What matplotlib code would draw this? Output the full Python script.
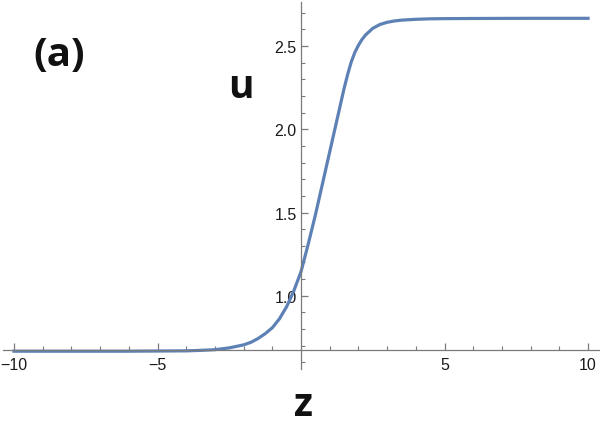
import numpy as np
import matplotlib
matplotlib.use("Agg")
import matplotlib.pyplot as plt
from matplotlib.ticker import FixedLocator

# curve
z = [-10, -8, -6, -5, -4, -3.5, -3, -2.5, -2, -1.75, -1.5, -1.25, -1, -0.75, -0.5, -0.25,
     0, 0.25, 0.5, 0.75, 1, 1.25, 1.5, 1.625, 1.75, 1.875, 2, 2.125, 2.25, 2.5, 2.75,
     3, 3.25, 3.5, 4, 4.5, 5, 6, 8, 10]
u = [0.667, 0.667, 0.667, 0.668, 0.669, 0.672, 0.676, 0.687, 0.705, 0.72, 0.743, 0.772,
     0.808, 0.862, 0.935, 1.03, 1.145, 1.31, 1.485, 1.675, 1.865, 2.055, 2.245, 2.33, 2.405,
     2.462, 2.505, 2.54, 2.567, 2.607, 2.63, 2.643, 2.651, 2.656, 2.661, 2.664, 2.665,
     2.666, 2.667, 2.667]

x_major = [-10, -5, 5, 10]
y_major = [1.0, 1.5, 2.0, 2.5]
y_min_axis = 0.673

axis_col = '#7a7a7a'
line_col = '#5e81b5'

fig = plt.figure(figsize=(6, 4.35), dpi=100)
ax = fig.add_axes([0.0042, 0.1494, 0.995, 0.8437])
ax.plot(z, u, color=line_col, lw=2.3, solid_joinstyle='round')
ax.set_xlim(-10.4, 10.4)
ax.set_ylim(0.56, 2.765)

ax.spines['top'].set_visible(False)
ax.spines['right'].set_visible(False)
ax.spines['left'].set_position(('data', 0))
ax.spines['bottom'].set_position(('data', y_min_axis))
for s in ['left', 'bottom']:
    ax.spines[s].set_color(axis_col)
    ax.spines[s].set_linewidth(0.9)

ax.xaxis.set_major_locator(FixedLocator(x_major))
ax.xaxis.set_minor_locator(FixedLocator([v for v in range(-10, 11) if v not in x_major and v != 0]))
ax.set_xticklabels(['\u221210', '\u22125', '5', '10'])
ax.yaxis.set_major_locator(FixedLocator(y_major))
ax.yaxis.set_minor_locator(FixedLocator([round(0.6 + 0.1 * i, 1) for i in range(22)
                                         if round(0.6 + 0.1 * i, 1) not in y_major]))
ax.set_yticklabels(['1.0', '1.5', '2.0', '2.5'])

ax.tick_params(axis='both', which='major', direction='in', length=5, width=0.9,
               color=axis_col, labelsize=11.5, labelcolor='#1a1a1a',
               labelfontfamily='Liberation Sans')
ax.tick_params(axis='both', which='minor', direction='in', length=3, width=0.8, color=axis_col)
ax.tick_params(axis='x', which='major', pad=5)
ax.tick_params(axis='y', which='major', pad=3)

ax.patch.set_alpha(0)
fig.text(59 / 600, 1 - 55 / 435, '(a)', fontsize=29, fontweight='bold', family='Open Sans',
         ha='center', va='center', color='#111111')
fig.text(241 / 600, 1 - 88 / 435, 'u', fontsize=28, fontweight='bold', family='Open Sans',
         ha='center', va='center', color='#111111')
fig.text(303 / 600, 1 - 406 / 435, 'z', fontsize=28, fontweight='bold', family='Open Sans',
         ha='center', va='center', color='#111111')

fig.savefig('out.png', dpi=100, facecolor='white')
